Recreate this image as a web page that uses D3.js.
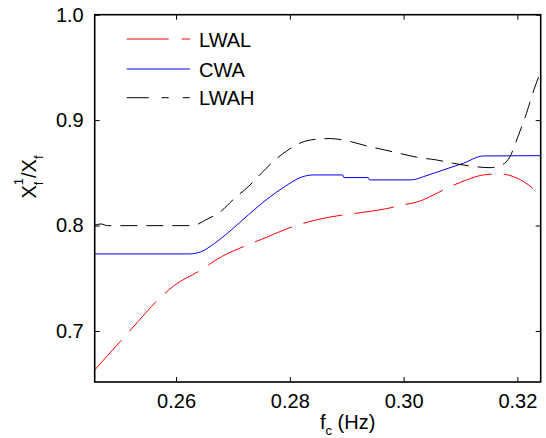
<!DOCTYPE html>
<html><head><meta charset="utf-8">
<script src="https://cdn.jsdelivr.net/npm/d3@7"></script>
<style>body{margin:0;background:#fff}svg{display:block}text{font-family:"Liberation Sans",Arial,sans-serif;fill:#000}</style>
</head><body>
<svg id="c" width="546" height="438"></svg>
<script>
// Data
const seriesNames = ["LWAL", "CWA", "LWAH"];
const xTicks = [0.26, 0.28, 0.30, 0.32];
const yTicks = [0.7, 0.8, 0.9, 1.0];

const fL = [0.2457,0.2480,0.2504,0.2533,0.2565,0.2598,0.2639,0.2680,0.2721,0.2762,0.2797,0.2838,0.2874,0.2924,0.2967,0.2999,0.3029,0.3055,0.3082,0.3111,0.3140,0.3170,0.3193,0.3211,0.3227];
const vL = [0.663,0.677,0.6912,0.7088,0.7278,0.7436,0.7563,0.7705,0.7806,0.7895,0.7974,0.8042,0.8084,0.8122,0.8157,0.8195,0.8233,0.8297,0.8369,0.8433,0.848,0.849,0.8464,0.8417,0.8354];

const fC = [0.2457,0.2624,0.2644,0.2668,0.2697,0.2727,0.2762,0.2791,0.2820,0.2841,0.2893,0.2895,0.2938,0.2940,0.3014,0.3035,0.3070,0.3105,0.3140,0.3241];
const vC = [0.7731,0.7731,0.7752,0.7832,0.7958,0.8101,0.8259,0.8369,0.8458,0.848,0.848,0.8455,0.8455,0.8433,0.8433,0.8464,0.8528,0.8591,0.866,0.8663];

const fH = [0.2457,0.2468,0.2480,0.2630,0.2650,0.2680,0.2703,0.2727,0.2750,0.2774,0.2797,0.2820,0.2841,0.2871,0.2907,0.2935,0.2967,0.2999,0.3023,0.3058,0.3087,0.3116,0.3152,0.3169,0.3187,0.3201,0.3216,0.3229,0.3241];
const vH = [0.8003,0.8015,0.7999,0.7999,0.8047,0.8141,0.8259,0.8369,0.8496,0.8622,0.8717,0.8787,0.8815,0.8825,0.8796,0.8755,0.8717,0.8677,0.8648,0.8622,0.8591,0.8566,0.8549,0.8566,0.8654,0.8843,0.9065,0.9287,0.946];

const series = [
  {name: seriesNames[0], f: fL, v: vL, color: "#ff0000", dash: "40,12", legDash: "42,13"},
  {name: seriesNames[1], f: fC, v: vC, color: "#0000ff", dash: null, legDash: null},
  {name: seriesNames[2], f: fH, v: vH, color: "#000000", dash: "17,9", legDash: "22,13,7,14,7,0"}
];

const L = 94.7, R = 540.7, T = 14.7, B = 382;
const x = d3.scaleLinear().domain([0.2457, 0.3241]).range([L, R]);
const y = d3.scaleLinear().domain([0.6516, 1.0]).range([B, T]);

const svg = d3.select("#c");
svg.append("clipPath").attr("id","clp").append("rect")
  .attr("x", L).attr("y", T).attr("width", R-L).attr("height", B-T);

const line = d3.line().x(d => x(d[0])).y(d => y(d[1])).curve(d3.curveMonotoneX);
const g = svg.append("g").attr("clip-path","url(#clp)");
series.forEach(s => {
  g.append("path").datum(s.f.map((f,i)=>[f, s.v[i]]))
    .attr("d", line).attr("fill","none").attr("stroke", s.color)
    .attr("stroke-width", 1).attr("stroke-dasharray", s.dash);
});

// Axes (MATLAB box with inward ticks)
const fmtX = d3.format(".2f"), fmtY = d3.format(".1f");
const tl = 5, fs = "20px";
const axB = svg.append("g").attr("transform",`translate(0,${B})`)
  .call(d3.axisBottom(x).tickValues(xTicks).tickSize(-tl).tickFormat(fmtX));
const axT = svg.append("g").attr("transform",`translate(0,${T})`)
  .call(d3.axisTop(x).tickValues(xTicks).tickSize(-tl).tickFormat(""));
const axL = svg.append("g").attr("transform",`translate(${L},0)`)
  .call(d3.axisLeft(y).tickValues(yTicks).tickSize(-tl).tickPadding(tl+6).tickFormat(fmtY));
const axR = svg.append("g").attr("transform",`translate(${R},0)`)
  .call(d3.axisRight(y).tickValues(yTicks).tickSize(-tl).tickFormat(""));
[axB, axT, axL, axR].forEach(a => {
  a.select(".domain").remove();
  a.selectAll("line").attr("stroke","#000").attr("stroke-width",1);
  a.selectAll("text").style("font-size",fs).attr("fill","#000");
});
axB.selectAll("text").attr("dy", null).attr("y", 25.5);
svg.append("rect").attr("x",L).attr("y",T).attr("width",R-L).attr("height",B-T)
  .attr("fill","none").attr("stroke","#000").attr("stroke-width",1.6);

// Legend
const legX0 = 126.7, legX1 = 190, legTx = 199, legY = [39, 69, 97.7];
series.forEach((s,i) => {
  svg.append("line").attr("x1",legX0).attr("x2",legX1).attr("y1",legY[i]).attr("y2",legY[i])
    .attr("stroke", s.color).attr("stroke-width",1).attr("stroke-dasharray", s.legDash);
  svg.append("text").attr("x",legTx).attr("y",legY[i]+7.5).style("font-size",fs).text(s.name);
});

// Y label
const yl = svg.append("text").attr("transform","translate(36,177) rotate(-90)")
  .attr("text-anchor","middle").style("font-size",fs);
yl.append("tspan").text("X");
yl.append("tspan").attr("dy",-13).style("font-size","13px").text("1");
yl.append("tspan").attr("dx",-7.2).attr("dy",20).style("font-size","13px").text("f");
yl.append("tspan").attr("dx",3.6).attr("dy",-7).text("/X");
yl.append("tspan").attr("dy",7).style("font-size","13px").text("f");

// X label
const xl = svg.append("text").attr("x",320).attr("y",429).style("font-size",fs);
xl.append("tspan").text("f");
xl.append("tspan").attr("dy",6).style("font-size","13px").text("c");
xl.append("tspan").attr("dy",-6).text(" (Hz)");
</script>
</body></html>
